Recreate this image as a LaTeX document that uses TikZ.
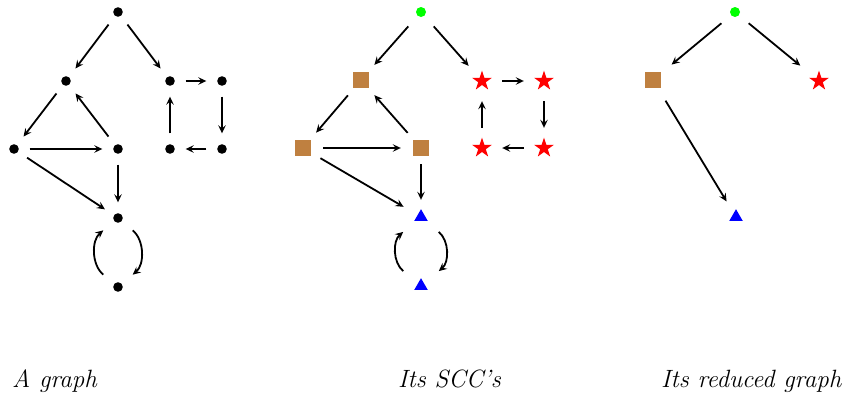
\documentclass[tikz,border=0pt]{standalone}
\usetikzlibrary{arrows.meta}
\tikzset{
  x=1pt, y=-1pt,
  conn/.style={-{Stealth[length=8pt, width=7.5pt, inset=3pt]}, line width=1.8pt},
  base/.style={circle, inner sep=0pt, draw=none},
  blackdot/.style={base, minimum size=#1, path picture={\fill[black] (path picture bounding box.center) circle (4.8pt);}},
  blackdot/.default=31pt,
  greendot/.style={base, minimum size=#1, path picture={\fill[green] (path picture bounding box.center) circle (5pt);}},
  brownsq/.style={base, minimum size=#1, path picture={\fill[brown] ([shift={(-8pt,-8pt)}]path picture bounding box.center) rectangle ([shift={(8pt,8pt)}]path picture bounding box.center);}},
  redstar/.style={base, minimum size=#1, path picture={
    \fill[red] ([shift={(90:10.5pt)}]path picture bounding box.center)
      -- ([shift={(126:4pt)}]path picture bounding box.center)
      -- ([shift={(162:10.5pt)}]path picture bounding box.center)
      -- ([shift={(198:4pt)}]path picture bounding box.center)
      -- ([shift={(234:10.5pt)}]path picture bounding box.center)
      -- ([shift={(270:4pt)}]path picture bounding box.center)
      -- ([shift={(306:10.5pt)}]path picture bounding box.center)
      -- ([shift={(342:4pt)}]path picture bounding box.center)
      -- ([shift={(18:10.5pt)}]path picture bounding box.center)
      -- ([shift={(54:4pt)}]path picture bounding box.center) -- cycle;}},
  bluetri/.style={base, minimum size=#1, path picture={
    \fill[blue] ([shift={(90:7.8pt)}]path picture bounding box.center)
      -- ([shift={(210:7.8pt)}]path picture bounding box.center)
      -- ([shift={(330:7.8pt)}]path picture bounding box.center) -- cycle;}},
  caption/.style={anchor=base west, inner sep=0pt, font=\fontsize{25}{30}\selectfont\itshape},
}
\begin{document}
\begin{tikzpicture}
\useasboundingbox (0,0) rectangle (844,394);
% graph 1
\node[blackdot] (t1) at (118,12) {};
\node[blackdot] (a1) at (66,81) {};
\node[blackdot] (b1) at (170,81) {};
\node[blackdot] (c1) at (222,81) {};
\node[blackdot] (d1) at (14,149) {};
\node[blackdot] (e1) at (118,149) {};
\node[blackdot] (f1) at (170,149) {};
\node[blackdot] (g1) at (222,149) {};
\node[blackdot] (h1) at (118,218) {};
\node[blackdot] (i1) at (118,287) {};
\draw[conn] (t1) -- (a1);
\draw[conn] (t1) -- (b1);
\draw[conn] (a1) -- (d1);
\draw[conn] (e1) -- (a1);
\draw[conn] (d1) -- (e1);
\draw[conn] (d1) -- (h1);
\draw[conn] (e1) -- (h1);
\draw[conn] (b1) -- (c1);
\draw[conn] (c1) -- (g1);
\draw[conn] (g1) -- (f1);
\draw[conn] (f1) -- (b1);
\draw[conn, shorten <=3.5pt, shorten >=3.5pt] (i1) to[bend left=50] (h1);
\draw[conn, shorten <=3.5pt, shorten >=3.5pt] (h1) to[bend left=50] (i1);
% graph 2
\node[greendot=38pt] (t2) at (421,12) {};
\node[brownsq=40pt] (a2) at (361,80) {};
\node[redstar=40pt] (b2) at (482,81) {};
\node[redstar=40pt] (c2) at (544,81) {};
\node[brownsq=40pt] (d2) at (303,148) {};
\node[brownsq=40pt] (e2) at (421,148) {};
\node[redstar=40pt] (f2) at (482,148) {};
\node[redstar=40pt] (g2) at (544,148) {};
\node[bluetri=40pt] (h2) at (421,217) {};
\node[bluetri=40pt] (i2) at (421,286) {};
\draw[conn] (t2) -- (a2);
\draw[conn] (t2) -- (b2);
\draw[conn] (a2) -- (d2);
\draw[conn] (e2) -- (a2);
\draw[conn] (d2) -- (e2);
\draw[conn] (d2) -- (h2);
\draw[conn, shorten >=-3pt, shorten <=-4pt] (e2) -- (h2);
\draw[conn] (b2) -- (c2);
\draw[conn] (c2) -- (g2);
\draw[conn] (g2) -- (f2);
\draw[conn] (f2) -- (b2);
\draw[conn, shorten <=3pt, shorten >=3pt] (i2) to[bend left=50] (h2);
\draw[conn, shorten <=3pt, shorten >=3pt] (h2) to[bend left=50] (i2);
% graph 3
\node[greendot=35pt] (t3) at (735,12) {};
\node[brownsq=48pt] (a3) at (653,80) {};
\node[redstar=48pt] (b3) at (819,81) {};
\node[bluetri=36pt] (h3) at (736,217) {};
\draw[conn] (t3) -- (a3);
\draw[conn] (t3) -- (b3);
\draw[conn] (a3) -- (h3);
% captions
\node[caption] (l1) at (12,387) {A graph};
\node[caption] (l2) at (398,387) {Its SCC's};
\node[caption] (l3) at (661,387) {Its reduced graph};
\end{tikzpicture}
\end{document}
